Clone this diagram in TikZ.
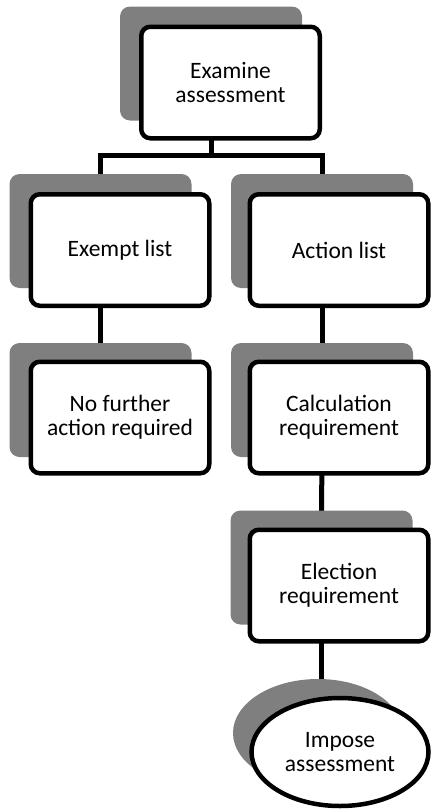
\documentclass[tikz,border=0pt]{standalone}
\usepackage{fontspec}
\setmainfont{Carlito}
\usetikzlibrary{shapes.geometric}
\pgfdeclarelayer{bg}
\pgfsetlayers{bg,main}
\begin{document}
\begin{tikzpicture}[x=1pt,y=-1pt,
  box/.style={draw=black, line width=4.5pt, fill=white, rounded corners=9pt,
    minimum width=178.5pt, minimum height=111.5pt, align=center, inner sep=0pt,
    font=\fontsize{23.5}{24}\selectfont},
  shade/.style={fill=shadegray, draw=none, rounded corners=10pt,
    minimum width=182pt, minimum height=114pt, inner sep=0pt},
  oval/.style={ellipse, draw=black, line width=4.5pt, fill=white,
    minimum width=177pt, minimum height=108pt, align=center, inner sep=0pt,
    font=\fontsize{23.5}{24}\selectfont},
  ovalshade/.style={ellipse, fill=shadegray, draw=none,
    minimum width=170pt, minimum height=108pt, inner sep=0pt},
  conn/.style={draw=black, line width=5pt}]
\definecolor{shadegray}{RGB}{127,127,127}
\useasboundingbox (0,0) rectangle (431,811);

% shadows
\node[shade] (stop) at (211,63.5) {};
\node[shade] (sexempt) at (100.5,231) {};
\node[shade] (saction) at (322,231) {};
\node[shade] (snofurther) at (100.5,400) {};
\node[shade] (scalc) at (322,400) {};
\node[shade] (select) at (321.5,567.5) {};
\node[ovalshade] (simpose) at (318,733) {};

% boxes
\node[box] (ntop) at (230.5,82.5) {Examine\\assessment};
\node[box] (nexempt) at (120,250) {Exempt list};
\node[box] (naction) at (339,250) {Action list};
\node[box] (nnofurther) at (120,417.5) {No further\\action required};
\node[box] (ncalc) at (339,417.5) {Calculation\\requirement};
\node[box] (nelect) at (339,585.5) {Election\\requirement};
\node[oval] (nimpose) at (340,752) {Impose\\assessment};

\coordinate (bar) at (211,155);

\begin{pgfonlayer}{bg}
\draw[conn] (stop.center) -- (bar) -| (sexempt.center);
\draw[conn] (bar) -| (saction.center);
\draw[conn] (sexempt.center) -- (snofurther.center);
\draw[conn] (saction.center) -- (scalc.center);
\draw[conn] (scalc.center) -- (select.center);
\draw[conn] (select.center) -- (select.center |- simpose.center);
\end{pgfonlayer}
\end{tikzpicture}
\end{document}
